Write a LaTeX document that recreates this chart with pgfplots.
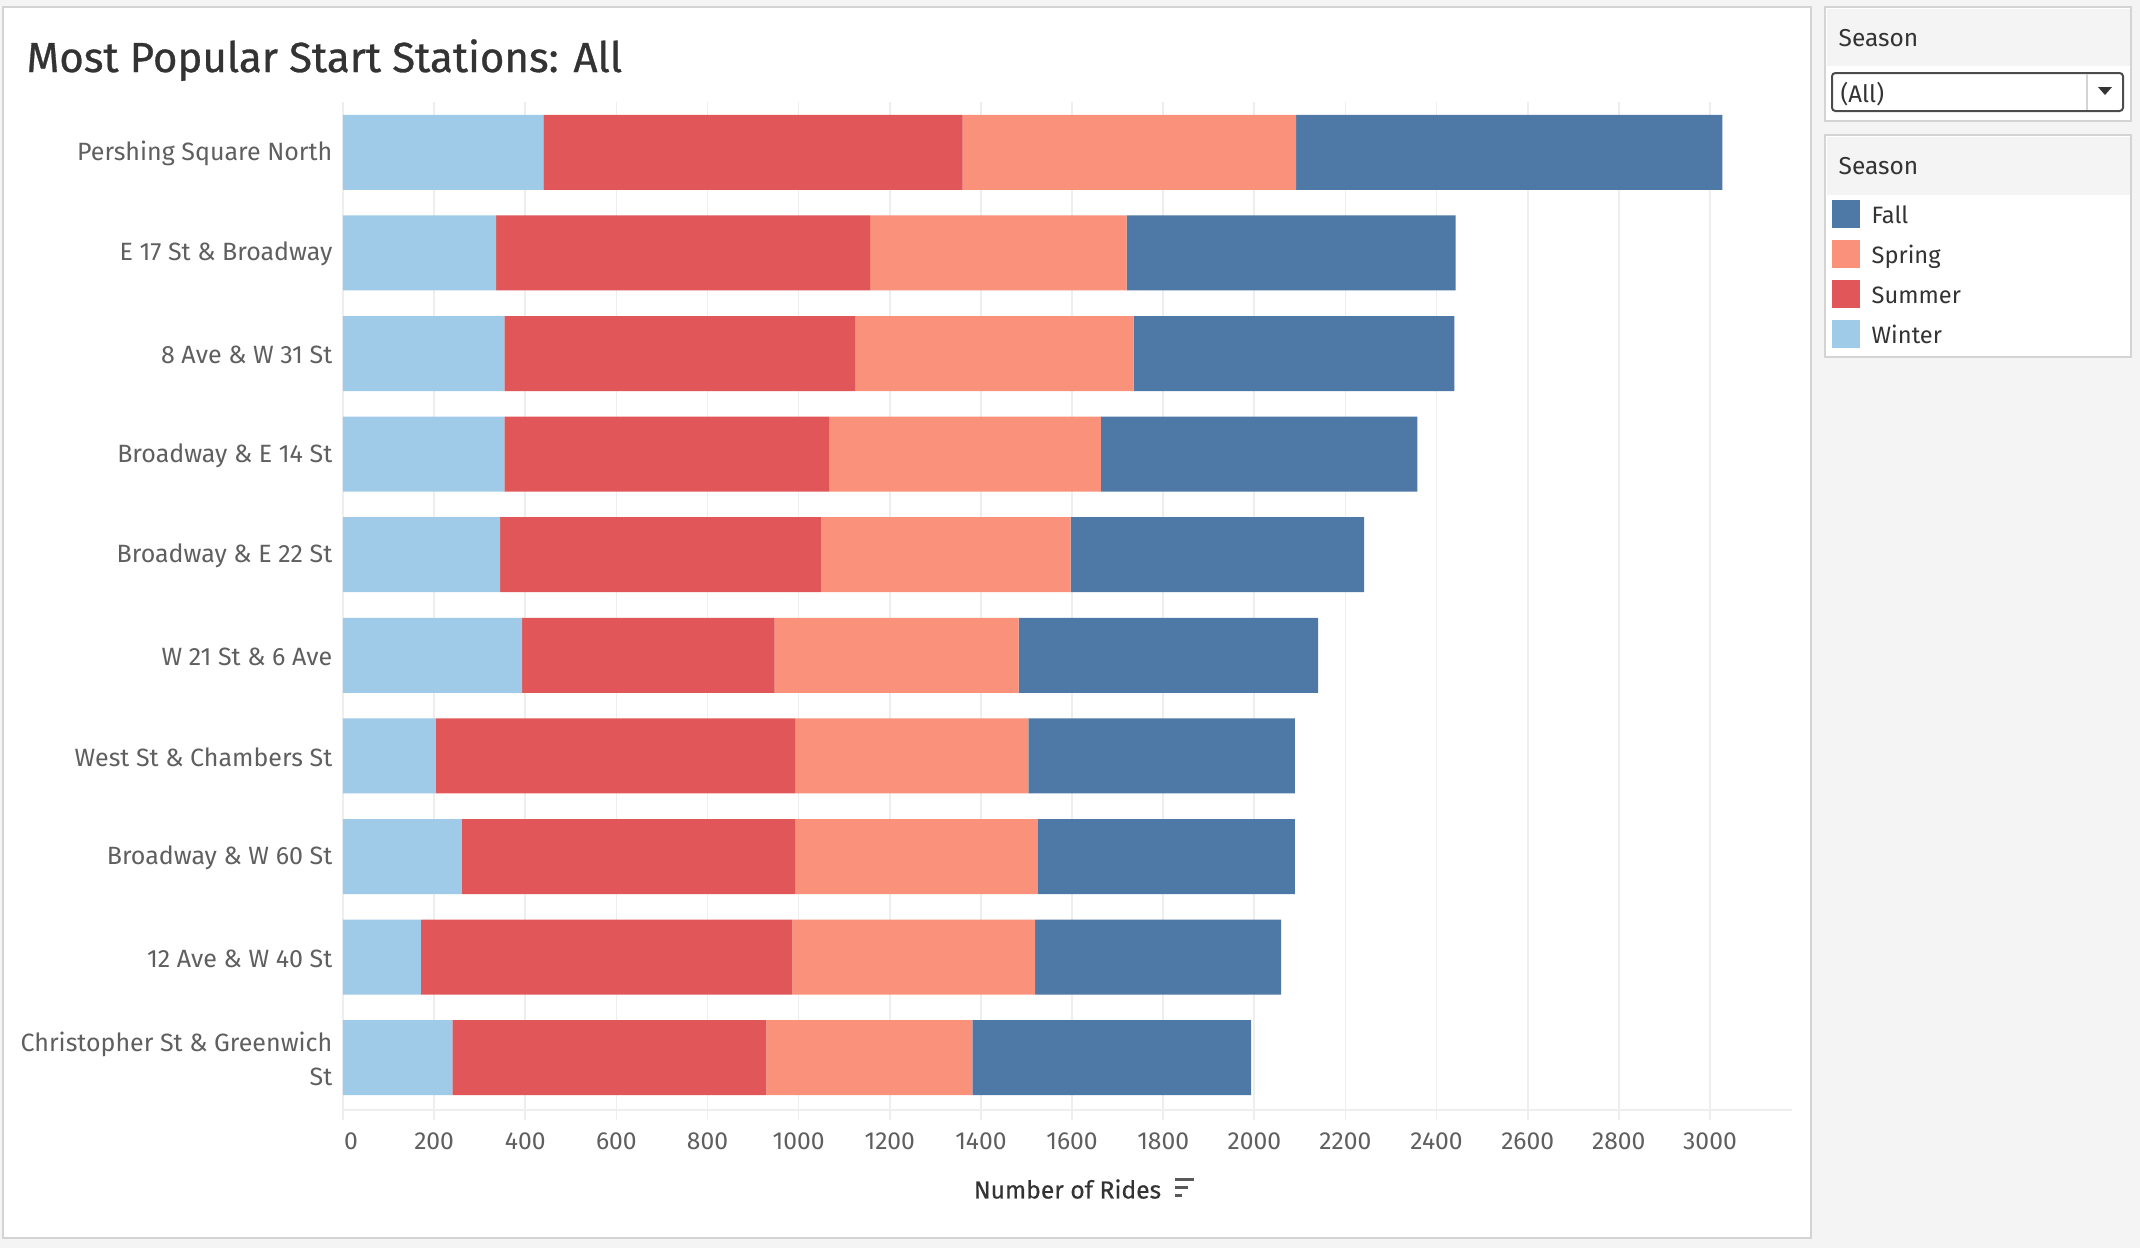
\documentclass[border=0pt]{standalone}
\usepackage{pgfplots}
\pgfplotsset{compat=1.18}
\usepackage{fontspec}
\setmainfont{Fira Sans}
\newfontfamily\titlefont{Fira Sans}[FakeBold=0.7]
\newfontfamily\semifont{Fira Sans}[FakeBold=0.4]

\definecolor{fall}{HTML}{4E79A7}
\definecolor{spring}{HTML}{F9917B}
\definecolor{summer}{HTML}{E15759}
\definecolor{winter}{HTML}{A0CBE8}
\definecolor{bg}{HTML}{F4F4F4}
\definecolor{panelline}{HTML}{D4D4D4}
\definecolor{gridc}{HTML}{EEEEEE}
\definecolor{txt}{HTML}{333333}
\definecolor{labc}{HTML}{5F5F5F}

\begin{document}
\begin{tikzpicture}[x=0.3pt,y=0.3pt]
% page and panels (pixel grid of the reference, y upwards)
\useasboundingbox[fill=bg] (0,0) rectangle (2140,1248);
\filldraw[fill=white,draw=panelline,line width=0.6pt] (3,10) rectangle (1811,1241);
\filldraw[fill=white,draw=panelline,line width=0.6pt] (1825,1127) rectangle (2131,1241);
\fill[bg] (1826.5,1182) rectangle (2129.5,1239.5);
\filldraw[fill=white,draw=panelline,line width=0.6pt] (1825,891) rectangle (2131,1113);
\fill[bg] (1826.5,1053) rectangle (2129.5,1111.5);

% title
\node[anchor=base west,inner sep=0pt,font=\titlefont\fontsize{12.6}{15}\selectfont,text=txt]
  at (26,1176) {Most Popular Start Stations: All};

% filter box
\node[anchor=base west,inner sep=0pt,font=\fontsize{7.35}{9}\selectfont,text=txt] at (1838,1202) {Season};
\draw[draw=black!70,line width=0.6pt,rounded corners=1pt] (1832,1137) rectangle (2123,1175);
\draw[panelline,line width=0.6pt] (2087,1138) -- (2087,1174);
\fill[black!80] (2098,1161) -- (2112,1161) -- (2105,1153) -- cycle;
\node[anchor=base west,inner sep=0pt,font=\fontsize{7.2}{9}\selectfont,text=txt] at (1840,1146) {(All)};

% legend
\node[anchor=base west,inner sep=0pt,font=\fontsize{7.35}{9}\selectfont,text=txt] at (1838,1074) {Season};
\fill[fall]   (1832,1020) rectangle (1860,1048);
\fill[spring] (1832,980)  rectangle (1860,1008);
\fill[summer] (1832,940)  rectangle (1860,968);
\fill[winter] (1832,900)  rectangle (1860,928);
\begin{scope}[every node/.style={anchor=base west,inner sep=0pt,font=\fontsize{7.1}{9}\selectfont,text=txt}]
\node at (1871,1025) {Fall};
\node at (1871,985) {Spring};
\node at (1871,945) {Summer};
\node at (1871,905) {Winter};
\end{scope}

\begin{axis}[
    at={(102.9pt,41.4pt)}, anchor=south west,
    width=434.7pt, height=302.4pt, scale only axis,
    xbar stacked, bar width=22.5pt,
    xmin=0, xmax=3180, ymin=-0.5, ymax=9.52, y dir=reverse,
    axis lines*=left,
    x axis line style={draw=gridc,line width=0.8pt,-},
    y axis line style={draw=none},
    xtick={200,400,...,3000},
    extra x ticks={0},
    extra x tick style={xticklabel style={xshift=2.4pt}},
    ytick={0,...,9},
    yticklabels={Pershing Square North,E 17 St \& Broadway,8 Ave \& W 31 St,
      Broadway \& E 14 St,Broadway \& E 22 St,W 21 St \& 6 Ave,
      West St \& Chambers St,Broadway \& W 60 St,12 Ave \& W 40 St,
      {Christopher St \& Greenwich\\St}},
    xmajorgrids, major grid style={draw=gridc,line width=0.5pt},
    tick align=outside, major tick length=3pt,
    xtick style={draw=gridc,line width=0.5pt},
    ytick style={draw=none},
    /pgf/number format/assume math mode=true,
    /pgf/number format/set thousands separator={},
    xticklabel style={font=\fontsize{7.4}{9}\selectfont,text=labc,inner sep=0pt,anchor=base,yshift=-8.85pt},
    yticklabel style={font=\fontsize{7.5}{10.2}\selectfont,text=labc,align=right,inner sep=0pt,anchor=east,xshift=0pt,yshift=-0.4pt},
    xlabel={Number of Rides},
    x label style={at={(axis description cs:0.5,0)},anchor=center,yshift=-23.7pt,
      font=\semifont\fontsize{7.4}{9}\selectfont,text=txt},
]
% Winter
\addplot[fill=winter,draw=none] coordinates {(440,0) (336,1) (354,2) (354,3) (345,4) (393,5) (204,6) (261,7) (171,8) (240,9)};
% Summer
\addplot[fill=summer,draw=none] coordinates {(920,0) (821,1) (770,2) (713,3) (704,4) (554,5) (788,6) (731,7) (815,8) (689,9)};
% Spring
\addplot[fill=spring,draw=none] coordinates {(732,0) (563,1) (611,2) (596,3) (548,4) (536,5) (512,6) (533,7) (533,8) (452,9)};
% Fall
\addplot[fill=fall,draw=none] coordinates {(935,0) (722,1) (704,2) (695,3) (644,4) (657,5) (585,6) (564,7) (540,8) (612,9)};
\end{axis}

% sort icon next to the axis title
\fill[black!65] (1175,67) rectangle (1194,70);
\fill[black!65] (1175,59) rectangle (1188,62);
\fill[black!65] (1175,51) rectangle (1182,54);
\end{tikzpicture}
\end{document}
